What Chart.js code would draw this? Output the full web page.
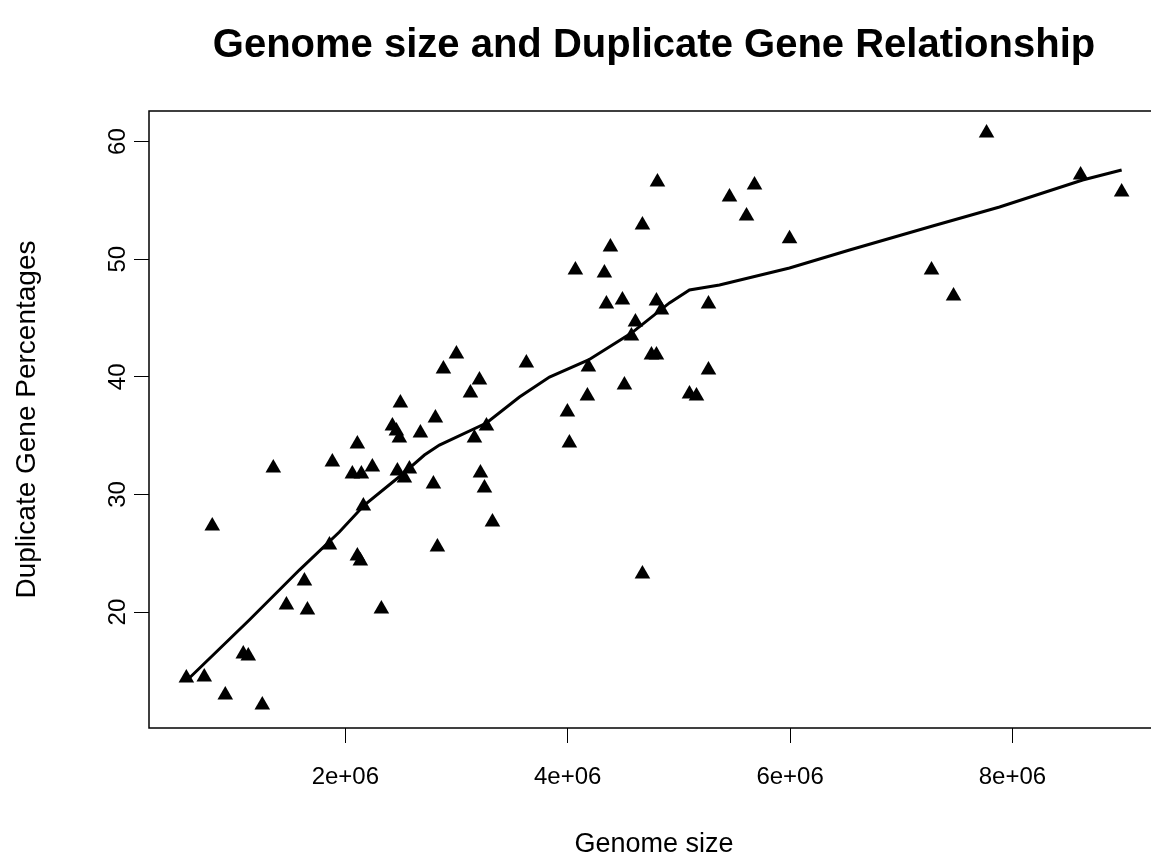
<!DOCTYPE html>
<html>
<head>
<meta charset="utf-8">
<title>Genome size and Duplicate Gene Relationship</title>
<script src="https://cdn.jsdelivr.net/npm/chart.js@4.4.1/dist/chart.umd.min.js"></script>
<style>
  html, body { margin: 0; padding: 0; background: #fff; overflow: hidden; }
  #wrap { position: absolute; left: 0; top: 0; width: 1170px; height: 858px; }
</style>
</head>
<body>
<div id="wrap"><canvas id="chart" width="1170" height="858"></canvas></div>
<script>
const genomeSize = [
  570000, 731000, 803000, 920000, 1082000, 1127000, 1253000, 1352000, 1470000, 1632000,
  1659000, 1857000, 1883000, 2063000, 2108000, 2108000, 2135000, 2144000, 2162000, 2243000,
  2324000, 2423000, 2459000, 2486000, 2495000, 2468000, 2531000, 2576000, 2675000, 2792000,
  2810000, 2828000, 2882000, 2999000, 3125000, 3161000, 3206000, 3215000, 3251000, 3269000,
  3323000, 3628000, 3997000, 4015000, 4069000, 4177000, 4186000, 4330000, 4348000, 4384000,
  4492000, 4510000, 4573000, 4609000, 4672000, 4672000, 4753000, 4798000, 4798000, 4807000,
  4843000, 5095000, 5158000, 5266000, 5266000, 5455000, 5608000, 5680000, 5995000, 7272000,
  7470000, 7767000, 8613000, 8982000
];
const dupPercent = [
  14.39, 14.47, 27.31, 12.94, 16.43, 16.26, 12.09, 32.24, 20.60, 22.64,
  20.17, 25.70, 32.76, 31.73, 34.29, 24.76, 24.34, 31.73, 29.01, 32.33,
  20.26, 35.82, 35.39, 34.80, 37.77, 31.99, 31.39, 32.16, 35.22, 30.88,
  36.50, 25.53, 40.66, 41.94, 38.62, 34.80, 39.73, 31.82, 30.54, 35.82,
  27.65, 41.17, 37.01, 34.37, 49.08, 38.37, 40.83, 48.83, 46.19, 51.04,
  46.53, 39.30, 43.47, 44.66, 52.91, 23.23, 41.85, 41.85, 46.45, 56.56,
  45.68, 38.54, 38.37, 46.19, 40.58, 55.29, 53.67, 56.31, 51.73, 49.08,
  46.87, 60.73, 57.16, 55.71
];

// smoothed fit
const fitX = [
  597000, 1136000, 1586000, 1946000, 2171000, 2504000, 2711000, 2846000, 3269000, 3566000,
  3836000, 4187000, 4573000, 4915000, 5095000, 5365000, 5995000, 6535000, 7282000, 7884000,
  8631000, 8982000
];
const fitY = [
  14.39, 19.32, 23.57, 26.80, 29.10, 31.65, 33.35, 34.20, 36.07, 38.28,
  39.98, 41.43, 43.72, 46.28, 47.38, 47.81, 49.25, 50.78, 52.82, 54.44,
  56.73, 57.59
];

const xTicks = [2000000, 4000000, 6000000, 8000000];
const xTickLabels = ["2e+06", "4e+06", "6e+06", "8e+06"];
const yTicks = [20, 30, 40, 50, 60];
const yTickLabels = ["20", "30", "40", "50", "60"];

const FONT = "'Liberation Sans', Arial, sans-serif";

const boxAndText = {
  id: "boxAndText",
  afterDraw(chart) {
    const { ctx, chartArea: a } = chart;
    const y = chart.scales.y;
    ctx.save();
    ctx.strokeStyle = "#000";
    ctx.lineWidth = 1.5;
    ctx.strokeRect(a.left, a.top, a.right - a.left, a.bottom - a.top);

    // title, centred on the plot region
    ctx.fillStyle = "#000";
    ctx.font = "bold 40px " + FONT;
    ctx.textAlign = "center";
    ctx.textBaseline = "middle";
    ctx.fillText("Genome size and Duplicate Gene Relationship", (a.left + a.right) / 2, 46);

    // rotated y tick labels
    ctx.font = "24px " + FONT;
    yTicks.forEach((v, i) => {
      ctx.save();
      ctx.translate(118, y.getPixelForValue(v));
      ctx.rotate(-Math.PI / 2);
      ctx.fillText(yTickLabels[i], 0, 0);
      ctx.restore();
    });
    ctx.restore();
  }
};

const points = genomeSize.map((g, i) => ({ x: g, y: dupPercent[i] }));
const fit = fitX.map((g, i) => ({ x: g, y: fitY[i] }));

new Chart(document.getElementById("chart"), {
  type: "scatter",
  data: {
    datasets: [
      {
        type: "line",
        data: fit,
        borderColor: "#000",
        borderWidth: 3,
        pointRadius: 0,
        tension: 0,
        fill: false
      },
      {
        data: points,
        pointStyle: "triangle",
        pointRadius: 9,
        backgroundColor: "#000",
        borderWidth: 0
      }
    ]
  },
  options: {
    responsive: false,
    animation: false,
    devicePixelRatio: 1,
    layout: { padding: { top: 111, right: 11, bottom: 0, left: 0 } },
    plugins: {
      legend: { display: false },
      tooltip: { enabled: false },
      title: { display: false }
    },
    scales: {
      x: {
        type: "linear",
        min: 234000,
        max: 9318000,
        afterBuildTicks: s => { s.ticks = xTicks.map(v => ({ value: v })); },
        afterFit: s => { s.height = 130; },
        ticks: {
          color: "#000",
          font: { family: FONT, size: 24 },
          padding: 20,
          maxRotation: 0,
          callback: v => xTickLabels[xTicks.indexOf(v)]
        },
        grid: { drawOnChartArea: false, drawTicks: true, tickLength: 15, color: "#000", lineWidth: 1 },
        border: { display: false },
        title: {
          display: true,
          text: "Genome size",
          color: "#000",
          font: { family: FONT, size: 27, lineHeight: 1 },
          padding: { top: 0, bottom: 0 }
        }
      },
      y: {
        type: "linear",
        min: 10.14,
        max: 62.6,
        afterBuildTicks: s => { s.ticks = yTicks.map(v => ({ value: v })); },
        afterFit: s => { s.width = 149; },
        ticks: { display: false },
        grid: { drawOnChartArea: false, drawTicks: true, tickLength: 15, color: "#000", lineWidth: 1 },
        border: { display: false },
        title: {
          display: true,
          text: "Duplicate Gene Percentages",
          color: "#000",
          font: { family: FONT, size: 28, lineHeight: 1 },
          padding: { top: 13, bottom: 0 }
        }
      }
    }
  },
  plugins: [boxAndText]
});
</script>
</body>
</html>
